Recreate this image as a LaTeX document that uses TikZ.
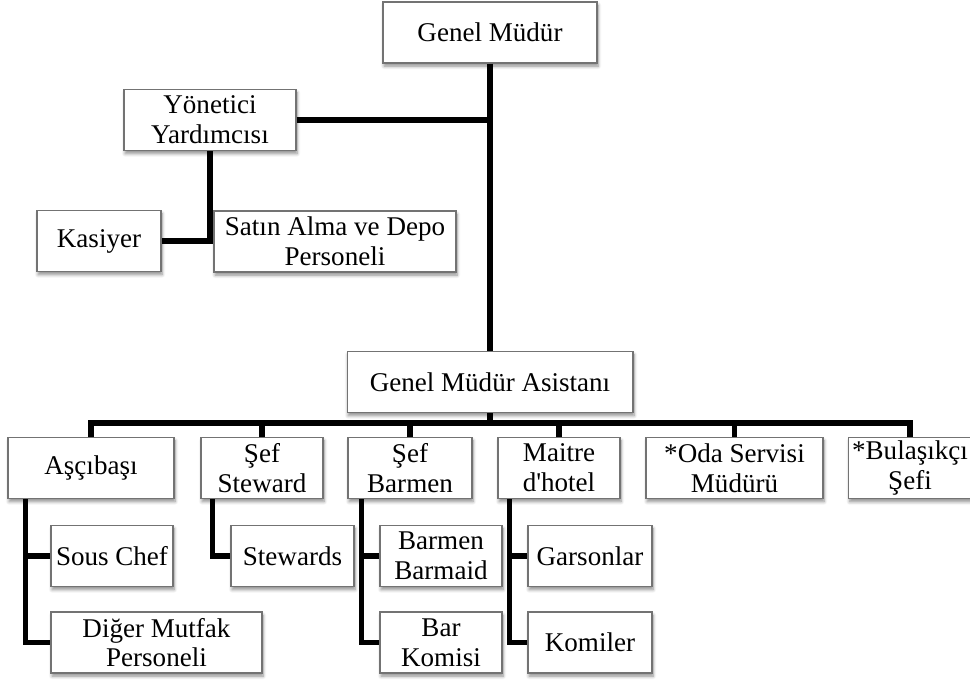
\documentclass[tikz,border=0pt]{standalone}
\usepackage{fontspec}
\setmainfont{Liberation Serif}
\usepackage{tikz}
\usetikzlibrary{
  calc,         % 坐标计算
  positioning,  % 节点相对定位
  shadows.blur  % 方框的柔和阴影
}

\begin{document}
\begin{tikzpicture}[x=0.02cm, y=-0.02cm, line width=3.1pt, % 以像素为单位，y 轴向下
  box/.style={draw=black!55, line width=0.6pt, fill=white, align=center,
    minimum height=1.22cm, inner sep=2pt, font=\fontsize{15.4}{16.9}\selectfont,
    blur shadow={shadow xshift=0.6pt, shadow yshift=-1.8pt, shadow blur steps=6, shadow opacity=45}}]
  \useasboundingbox (0,0) rectangle (970,682); % 固定画布大小

  % 上层：总经理与副手
  \node[box, minimum width=4.28cm] (gm) at (490,32.5) {Genel Müdür};
  \node[box, minimum width=3.44cm] (yy) at (210,120) {Yönetici\\Yardımcısı};
  \node[box, minimum width=2.48cm] (kasiyer) at (99,241) {Kasiyer};
  \node[box, minimum width=4.84cm] (satin) at (335,241.5) {Satın Alma ve Depo\\Personeli};
  \node[box, minimum width=5.72cm] (gma) at (490,382) {Genel Müdür Asistanı};

  % 中层：各部门负责人
  \node[box, minimum width=3.32cm] (asci) at (91,468) {Aşçıbaşı};
  \node[box, minimum width=2.44cm] (sste) at (262,468) {Şef\\Steward};
  \node[box, minimum width=2.48cm] (sbar) at (410,468) {Şef\\Barmen};
  \node[box, minimum width=2.44cm] (mait) at (559,468) {Maitre\\d\textquotesingle hotel};
  \node[box, minimum width=3.54cm] (oda) at (734.5,468) {*Oda Servisi\\Müdürü};
  \node[box, minimum width=2.44cm] (bul) at (910,468) {*Bulaşıkçı\\Şefi};

  % 下层：员工
  \node[box, minimum width=2.44cm] (sous) at (112,556) {Sous Chef};
  \node[box, minimum width=4.22cm] (diger) at (156.5,642.5) {Diğer Mutfak\\Personeli};
  \node[box, minimum width=2.46cm] (stew) at (292.5,556) {Stewards};
  \node[box, minimum width=2.44cm] (bb) at (441,556) {Barmen\\Barmaid};
  \node[box, minimum width=2.44cm] (bk) at (441,642.5) {Bar\\Komisi};
  \node[box, minimum width=2.48cm] (gars) at (590,556) {Garsonlar};
  \node[box, minimum width=2.48cm] (kom) at (590,642.5) {Komiler};

  % 主干与上层连线
  \draw (gm.south) -- (gma.north);
  \draw (yy.east) -- (yy.east -| gm.south);
  \draw (yy.south) |- (kasiyer.east);

  % 中层横线
  \coordinate (bus) at (490,423);
  \draw (gma.south) -- (gma.south |- bus);
  \draw (asci.north) -- (asci.north |- bus) -- (bul.north |- bus) -- (bul.north);
  \foreach \n in {sste,sbar,mait,oda}
    \draw (\n.north) -- (\n.north |- bus);

  % 下层分支
  \coordinate (asci-b) at ($(asci.south west)+(18,0)$);
  \coordinate (sste-b) at ($(sste.south west)+(12,0)$);
  \coordinate (sbar-b) at ($(sbar.south west)+(14,0)$);
  \coordinate (mait-b) at ($(mait.south west)+(12,0)$);
  \draw (asci-b) |- (sous.west);
  \draw (asci-b) |- (diger.west);
  \draw (sste-b) |- (stew.west);
  \draw (sbar-b) |- (bb.west);
  \draw (sbar-b) |- (bk.west);
  \draw (mait-b) |- (gars.west);
  \draw (mait-b) |- (kom.west);
\end{tikzpicture}
\end{document}
